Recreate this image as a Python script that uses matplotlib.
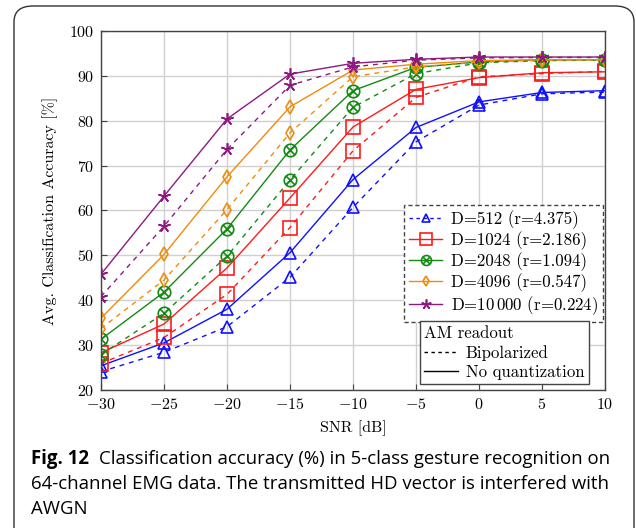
import matplotlib
matplotlib.use("Agg")
import matplotlib.pyplot as plt
from matplotlib.path import Path
from matplotlib.lines import Line2D
from matplotlib.patches import FancyBboxPatch
import numpy as np

plt.rcParams['font.family'] = ['cmr10']
plt.rcParams['mathtext.fontset'] = 'cm'
plt.rcParams['axes.formatter.use_mathtext'] = True

snr = [-30, -25, -20, -15, -10, -5, 0, 5, 10]

labels = ["D=512 (r=4.375)", "D=1024 (r=2.186)", "D=2048 (r=1.094)",
          "D=4096 (r=0.547)", r"D=$10\,000$ (r=0.224)"]

acc_nq_512 = [25.4, 30.5, 38.0, 50.6, 66.9, 78.5, 84.2, 86.3, 86.7]
acc_bp_512 = [24.1, 28.4, 34.1, 45.1, 60.7, 75.3, 83.5, 86.0, 86.4]
acc_nq_1024 = [28.3, 34.7, 47.2, 62.8, 78.6, 87.0, 89.6, 90.7, 90.9]
acc_bp_1024 = [25.9, 31.7, 41.3, 56.2, 73.3, 85.2, 89.8, 90.5, 91.0]
acc_nq_2048 = [31.3, 41.8, 55.9, 73.5, 86.7, 91.9, 93.1, 93.6, 93.6]
acc_bp_2048 = [27.9, 37.1, 49.8, 66.8, 83.0, 90.5, 92.9, 93.4, 93.5]
acc_nq_4096 = [36.0, 50.2, 67.5, 83.1, 91.3, 92.6, 93.4, 93.6, 93.6]
acc_bp_4096 = [33.7, 44.5, 60.2, 77.3, 89.8, 92.0, 93.1, 93.5, 93.6]
acc_nq_10000 = [45.8, 63.2, 80.4, 90.4, 92.8, 93.7, 94.2, 94.2, 94.2]
acc_bp_10000 = [40.8, 56.5, 73.6, 87.9, 92.0, 93.5, 94.0, 94.1, 94.1]

nq = [acc_nq_512, acc_nq_1024, acc_nq_2048, acc_nq_4096, acc_nq_10000]
bp = [acc_bp_512, acc_bp_1024, acc_bp_2048, acc_bp_4096, acc_bp_10000]

colors = ['#1010ff', '#ff1a1a', '#138a13', '#ee8c0c', '#8c1a80']

otimes = Path.make_compound_path(
    Path.unit_circle(),
    Path([(-0.707, -0.707), (0.707, 0.707)], [Path.MOVETO, Path.LINETO]),
    Path([(-0.707, 0.707), (0.707, -0.707)], [Path.MOVETO, Path.LINETO]))
markers = ['^', 's', otimes, 'd', (5, 2, 0)]
msizes = [8, 10, 9, 7, 9]

fig = plt.figure(figsize=(6.36, 5.28), dpi=100)
ax = fig.add_axes([0.1588, 0.2614, 0.9513 - 0.1588, 0.9413 - 0.2614])

dash = (0, (3.5, 3.5))
handles = []
for i in range(5):
    ax.plot(snr, bp[i], color=colors[i], lw=1.0, ls=dash,
            marker=markers[i], ms=msizes[i], mfc='none', mec=colors[i], mew=1.2)
    ax.plot(snr, nq[i], color=colors[i], lw=1.0, ls='-',
            marker=markers[i], ms=msizes[i], mfc='none', mec=colors[i], mew=1.2)
    ls = (0, (2.5, 2.5)) if i == 0 else '-'
    handles.append(Line2D([], [], color=colors[i], lw=1.0, ls=ls,
                          marker=markers[i], ms=msizes[i] * 0.8, mfc='none',
                          mec=colors[i], mew=1.2))

ax.set_xlim(-30, 10)
ax.set_ylim(20, 100)
ax.set_xticks(snr)
ax.set_yticks(np.arange(20, 101, 10))
ax.grid(True, color='#d0d0d0', lw=1.0)
ax.set_axisbelow(True)
ax.tick_params(direction='in', length=4, labelsize=11.5, color='#444444',
               pad=5)
for s in ax.spines.values():
    s.set_color('#444444')
    s.set_linewidth(1.0)
ax.set_xlabel('SNR [dB]', fontsize=11.5, labelpad=6)
ax.set_ylabel('Avg. Classification Accuracy [%]', fontsize=11.5, labelpad=8)

lfs = 12.1
leg1 = fig.legend(handles, labels, loc='upper right',
                  bbox_to_anchor=(0.948, 0.612), fontsize=lfs,
                  handlelength=2.0, handletextpad=0.5, labelspacing=0.14,
                  borderpad=0.3, borderaxespad=0, fancybox=False,
                  edgecolor='#444444', framealpha=1)
leg1.get_frame().set_linestyle((0, (3, 2)))
leg1.get_frame().set_linewidth(1.0)

h2 = [Line2D([], [], color='black', lw=1.0, ls=(0, (2.5, 2.5))),
      Line2D([], [], color='black', lw=1.0, ls='-')]
leg2 = fig.legend(h2, ['Bipolarized', 'No quantization'], loc='upper left',
                  bbox_to_anchor=(0.660, 0.392), fontsize=lfs,
                  title='AM readout', title_fontsize=lfs, alignment='left',
                  handlelength=2.0, handletextpad=0.5, labelspacing=0.25,
                  borderpad=0.25, borderaxespad=0, fancybox=False,
                  edgecolor='#444444', framealpha=1)
leg2.get_frame().set_linewidth(1.0)
leg2._legend_box.sep = 3

# outer rounded frame
frame = FancyBboxPatch((14 / 636, -0.2), (634 - 14) / 636, 1.2 - 6 / 528,
                       boxstyle='round,pad=0,rounding_size=0.03',
                       transform=fig.transFigure, fill=False,
                       edgecolor='#333333', lw=1.0, clip_on=False)
fig.patches.append(frame)

cap_font = ['Open Sans', 'DejaVu Sans']
fs = 13.4
fig.canvas.draw()
r = fig.canvas.get_renderer()
t1 = fig.text(31 / 636, 1 - 459 / 528, 'Fig. 12', fontsize=fs, fontweight='bold',
              family=cap_font, va='center', ha='left')
bb = t1.get_window_extent(r)
fig.text((bb.x1 + 10) / 636, 1 - 459 / 528,
         'Classification accuracy (%) in 5-class gesture recognition on',
         fontsize=fs, family=cap_font, va='center', ha='left')
fig.text(31 / 636, 1 - 484 / 528,
         '64-channel EMG data. The transmitted HD vector is interfered with',
         fontsize=fs, family=cap_font, va='center', ha='left')
fig.text(31 / 636, 1 - 509 / 528, 'AWGN',
         fontsize=fs, family=cap_font, va='center', ha='left')

fig.savefig('out.png', dpi=100)
